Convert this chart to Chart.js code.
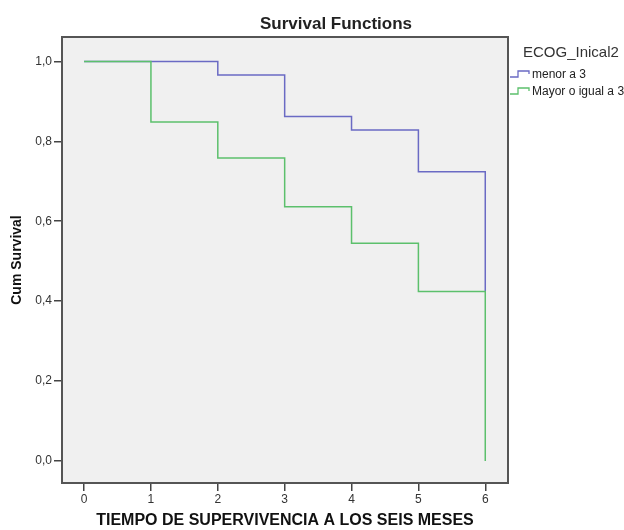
<!DOCTYPE html>
<html>
<head>
<meta charset="utf-8">
<script src="https://cdn.jsdelivr.net/npm/chart.js@4/dist/chart.umd.min.js"></script>
<style>
  body { margin: 0; background: #ffffff; }
</style>
</head>
<body>
<canvas id="survivalChart" width="624" height="530"></canvas>
<script>
// Kaplan-Meier steps (time in months, cumulative survival)
const timesMenor = [0, 2, 3, 4, 5, 6];
const survMenor = [1.0, 0.966, 0.862, 0.828, 0.724, 0.424];
const timesMayor = [0, 1, 2, 3, 4, 5, 6];
const survMayor = [1.0, 0.848, 0.758, 0.636, 0.545, 0.424, 0.0];

const xTicks = [0, 1, 2, 3, 4, 5, 6];
const yTicks = [0, 0.2, 0.4, 0.6, 0.8, 1.0];

const groupLabels = ['menor a 3', 'Mayor o igual a 3'];
const groupColors = ['#6a6ac4', '#5cc06c'];

const FONT = "'Liberation Sans', Arial, sans-serif";

function toPoints(xs, ys) {
  return xs.map((x, i) => ({ x: x, y: ys[i] }));
}

// SPSS-like frame, title and legend
const spssDecor = {
  id: 'spssDecor',
  beforeDatasetsDraw(chart) {
    const { ctx, chartArea: a } = chart;
    ctx.save();
    ctx.fillStyle = '#f0f0f0';
    ctx.fillRect(a.left, a.top, a.right - a.left, a.bottom - a.top);
    ctx.restore();
  },
  afterDraw(chart) {
    const { ctx, chartArea: a } = chart;
    ctx.save();
    // plot frame
    ctx.strokeStyle = '#555';
    ctx.lineWidth = 2;
    ctx.strokeRect(a.left, a.top, a.right - a.left, a.bottom - a.top);

    // title
    ctx.fillStyle = '#222';
    ctx.font = 'bold 17px ' + FONT;
    ctx.textAlign = 'center';
    ctx.textBaseline = 'middle';
    ctx.fillText('Survival Functions', 336, 24);

    // legend
    ctx.textAlign = 'left';
    ctx.font = '15px ' + FONT;
    ctx.fillStyle = '#333';
    ctx.fillText('ECOG_Inical2', 523, 53);

    ctx.font = '12px ' + FONT;
    groupLabels.forEach((label, i) => {
      const y = 74 + i * 17;
      ctx.strokeStyle = groupColors[i];
      ctx.lineWidth = 1.3;
      ctx.beginPath();
      ctx.moveTo(510, y + 3);
      ctx.lineTo(518, y + 3);
      ctx.lineTo(518, y - 3);
      ctx.lineTo(529, y - 3);
      ctx.lineTo(529, y);
      ctx.stroke();
      ctx.fillStyle = '#222';
      ctx.fillText(label, 532, y + 1);
    });
    ctx.restore();
  }
};

const ctx = document.getElementById('survivalChart').getContext('2d');

new Chart(ctx, {
  type: 'line',
  data: {
    datasets: [
      {
        label: groupLabels[0],
        data: toPoints(timesMenor, survMenor),
        borderColor: groupColors[0],
        borderWidth: 1.5,
        stepped: 'before',
        pointRadius: 0,
        fill: false,
        order: 1
      },
      {
        label: groupLabels[1],
        data: toPoints(timesMayor, survMayor),
        borderColor: groupColors[1],
        borderWidth: 1.5,
        stepped: 'before',
        pointRadius: 0,
        fill: false,
        order: 0
      }
    ]
  },
  options: {
    responsive: false,
    animation: false,
    layout: {
      padding: { top: 37, right: 116, bottom: 0, left: 0 }
    },
    scales: {
      x: {
        type: 'linear',
        min: -0.33,
        max: 6.34,
        afterFit: (scale) => { scale.height = 47; },
        afterBuildTicks: (scale) => { scale.ticks = xTicks.map(v => ({ value: v })); },
        grid: {
          display: true,
          drawOnChartArea: false,
          drawTicks: true,
          tickLength: 8,
          color: '#444',
          lineWidth: 1.5
        },
        border: { display: false },
        ticks: {
          color: '#333',
          padding: 1,
          font: { family: FONT, size: 12 },
          callback: (v) => String(v)
        },
        title: {
          display: true,
          text: 'TIEMPO DE SUPERVIVENCIA A LOS SEIS MESES',
          color: '#111',
          font: { family: FONT, size: 16, weight: 'bold' },
          padding: { top: 0, bottom: 0 }
        }
      },
      y: {
        type: 'linear',
        min: -0.055,
        max: 1.061,
        afterFit: (scale) => { scale.width = 62; },
        afterBuildTicks: (scale) => { scale.ticks = yTicks.map(v => ({ value: v })); },
        grid: {
          display: true,
          drawOnChartArea: false,
          drawTicks: true,
          tickLength: 8,
          color: '#444',
          lineWidth: 1.5
        },
        border: { display: false },
        ticks: {
          color: '#333',
          padding: 2,
          font: { family: FONT, size: 12 },
          callback: (v) => v.toFixed(1).replace('.', ',')
        },
        title: {
          display: true,
          text: 'Cum Survival',
          color: '#111',
          font: { family: FONT, size: 14, weight: 'bold' },
          padding: { top: 9, bottom: 0 }
        }
      }
    },
    plugins: {
      legend: { display: false },
      tooltip: { enabled: false }
    }
  },
  plugins: [spssDecor]
});
</script>
</body>
</html>
